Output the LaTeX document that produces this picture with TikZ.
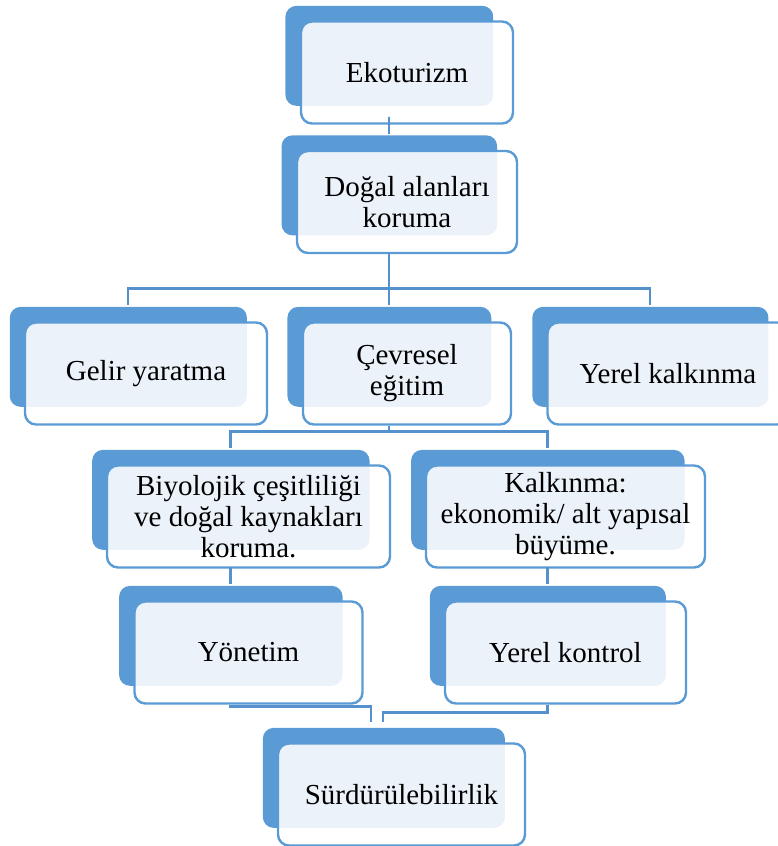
\documentclass[tikz,border=0pt]{standalone}
\usepackage{fontspec}
\setmainfont{Liberation Serif}
\usetikzlibrary{trees,shadows}

\definecolor{boxblue}{HTML}{5B9BD5}
\definecolor{linkblue}{HTML}{5591CD}

\begin{document}
\begin{tikzpicture}[
   box/.style={draw=boxblue,line width=2.4pt,rounded corners=11pt,
     fill=white,fill opacity=0.88,text opacity=1,
     minimum height=102pt,inner sep=2pt,align=center,
     font=\rmfamily\fontsize{29pt}{31pt}\selectfont,
     drop shadow={shadow xshift=-18pt,shadow yshift=17pt,shadow scale=0.98,
       fill=boxblue,opacity=1}},
   link/.style={draw=linkblue,line width=2.8pt},
   edge from parent/.style={link},
   edge from parent path={([xshift=-18pt]\tikzparentnode.south)
     |- ([xshift=-18pt,yshift=33pt]\tikzchildnode.north)
     -- ([xshift=-18pt,yshift=16pt]\tikzchildnode.north)},
   level 1/.style={level distance=129.5pt},
   level 2/.style={level distance=171.5pt,sibling distance=261pt},
   level 3/.style={level distance=143pt,sibling distance=317pt},
   level 4/.style={level distance=136pt},
   ]
   \useasboundingbox (0,0) rectangle (778pt,-846pt);
   \node[box,minimum width=212pt] (eko) at (407pt,-72.5pt) {Ekoturizm}
  child{node[box,minimum width=220pt] (dogal) {Doğal alanları\\koruma}
  		child{node[box,minimum width=242pt] (gelir) {Gelir yaratma}}
  		child{node[box,minimum width=208pt] (cevre) {Çevresel\\eğitim}
  					child{node[box,minimum width=283pt] (biyo) {Biyolojik çeşitliliği\\ve doğal kaynakları\\koruma.}
  								child{node[box,minimum width=228pt] (yonetim) {Yönetim}}
  					}
  					child{node[box,minimum width=279pt] (kalkinma) {Kalkınma:\\ekonomik/ alt yapısal\\büyüme.}
  								child{node[box,minimum width=241pt] (kontrol) {Yerel kontrol}}
  					}
  		}
  		child{node[box,minimum width=241pt] (yerel) {Yerel kalkınma}}
  	}
;
   \node[box,minimum width=247pt] (surd) at (401.5pt,-794.5pt) {Sürdürülebilirlik};
   \draw[link] ([xshift=-18pt]yonetim.south) |- ([xshift=-30.5pt,yshift=36pt]surd.north)
     -- ([xshift=-30.5pt,yshift=20pt]surd.north);
   \draw[link] ([xshift=-18pt]kontrol.south) |- ([xshift=-18.5pt,yshift=30pt]surd.north)
     -- ([xshift=-18.5pt,yshift=20pt]surd.north);
\end{tikzpicture}
\end{document}
